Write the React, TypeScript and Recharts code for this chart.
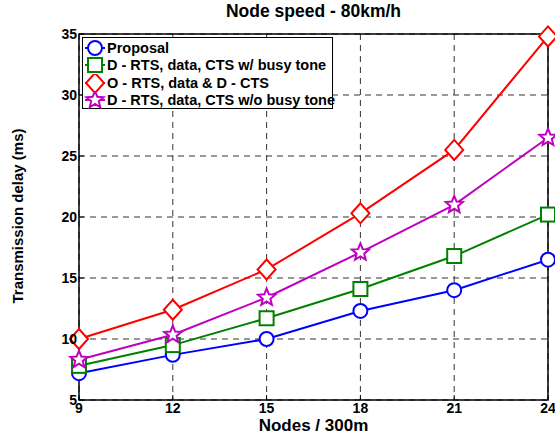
import { LineChart, Line, XAxis, YAxis, CartesianGrid, ReferenceArea } from 'recharts';

const nodes = [9, 12, 15, 18, 21, 24];
const proposal = [7.2, 8.7, 10.0, 12.3, 14.0, 16.5];
const busyTone = [7.8, 9.5, 11.7, 14.1, 16.8, 20.2];
const oRtsDCts = [10.0, 12.4, 15.7, 20.3, 25.5, 34.8];
const noBusyTone = [8.3, 10.35, 13.4, 17.1, 21.0, 26.5];
const yTicks = [5, 10, 15, 20, 25, 30, 35];

const seriesNames = [
  'Proposal',
  'D - RTS, data, CTS w/ busy tone',
  'O - RTS, data & D - CTS',
  'D - RTS, data, CTS w/o busy tone',
];

const data = nodes.map((n, i) => ({
  n,
  proposal: proposal[i],
  busyTone: busyTone[i],
  oRts: oRtsDCts[i],
  noBusy: noBusyTone[i],
}));

const FONT = '"Liberation Sans", Arial, Helvetica, sans-serif';

type Shape = 'circle' | 'square' | 'diamond' | 'star';

function starPoints(cx: number, cy: number, R: number, r: number) {
  const pts: string[] = [];
  for (let i = 0; i < 10; i++) {
    const rad = i % 2 === 0 ? R : r;
    const a = -Math.PI / 2 + (i * Math.PI) / 5;
    pts.push(`${cx + rad * Math.cos(a)},${cy + rad * Math.sin(a)}`);
  }
  return pts.join(' ');
}

function MarkerShape({ cx, cy, shape, color }: { cx: number; cy: number; shape: Shape; color: string }) {
  const common = { fill: '#fff', stroke: color, strokeWidth: 2 };
  if (shape === 'circle') return <circle cx={cx} cy={cy} r={7} {...common} />;
  if (shape === 'square') return <rect x={cx - 7} y={cy - 7} width={14} height={14} {...common} />;
  if (shape === 'diamond')
    return <polygon points={`${cx},${cy - 10} ${cx + 9},${cy} ${cx},${cy + 10} ${cx - 9},${cy}`} {...common} />;
  return <polygon points={starPoints(cx, cy, 9, 4)} {...common} strokeLinejoin="miter" />;
}

const dotFor = (shape: Shape, color: string) => (props: any) => {
  const { cx, cy, index } = props;
  if (cx == null || cy == null) return <g key={index} />;
  return <MarkerShape key={index} cx={cx} cy={cy} shape={shape} color={color} />;
};

const legendItems: { name: string; shape: Shape; color: string }[] = [
  { name: seriesNames[0], shape: 'circle', color: '#0000ff' },
  { name: seriesNames[1], shape: 'square', color: '#008000' },
  { name: seriesNames[2], shape: 'diamond', color: '#ff0000' },
  { name: seriesNames[3], shape: 'star', color: '#bf00bf' },
];

export default function App() {
  return (
    <div style={{ position: 'absolute', left: 0, top: 0, width: 555, height: 438, background: '#fff', fontFamily: FONT }}>
      <div
        style={{
          position: 'absolute',
          top: 1,
          left: 79,
          width: 469,
          textAlign: 'center',
          fontWeight: 'bold',
          fontSize: 17.5,
        }}
      >
        Node speed - 80km/h
      </div>
      <div
        style={{
          position: 'absolute',
          left: 17,
          top: 216,
          transform: 'translate(-50%, -50%) rotate(-90deg)',
          whiteSpace: 'nowrap',
          fontWeight: 'bold',
          fontSize: 15,
        }}
      >
        Transmission delay (ms)
      </div>
      <div
        style={{
          position: 'absolute',
          top: 416,
          left: 79,
          width: 469,
          textAlign: 'center',
          fontWeight: 'bold',
          fontSize: 17,
        }}
      >
        Nodes / 300m
      </div>
      <LineChart width={555} height={438} data={data} margin={{ top: 34, right: 7, left: 0, bottom: 0 }}>
        <CartesianGrid stroke="#333" strokeDasharray="6 5" strokeWidth={1} />
        <XAxis
          dataKey="n"
          type="number"
          domain={[9, 24]}
          ticks={nodes}
          height={38}
          axisLine={false}
          tickLine={{ stroke: '#000' }}
          tickSize={-5}
          tickMargin={8}
          tick={{ fill: '#000', fontSize: 14, fontWeight: 'bold', fontFamily: FONT }}
        />
        <YAxis
          type="number"
          domain={[5, 35]}
          ticks={yTicks}
          width={79}
          axisLine={false}
          tickLine={{ stroke: '#000' }}
          tickSize={-5}
          tickMargin={7}
          tick={{ fill: '#000', fontSize: 14, fontWeight: 'bold', fontFamily: FONT }}
        />
        <ReferenceArea x1={9} x2={24} y1={5} y2={35} fill="none" stroke="#000" strokeWidth={1.5} />
        <Line dataKey="proposal" stroke="#0000ff" strokeWidth={2} dot={dotFor('circle', '#0000ff')} isAnimationActive={false} />
        <Line dataKey="busyTone" stroke="#008000" strokeWidth={2} dot={dotFor('square', '#008000')} isAnimationActive={false} />
        <Line dataKey="oRts" stroke="#ff0000" strokeWidth={2} dot={dotFor('diamond', '#ff0000')} isAnimationActive={false} />
        <Line dataKey="noBusy" stroke="#bf00bf" strokeWidth={2} dot={dotFor('star', '#bf00bf')} isAnimationActive={false} />
      </LineChart>
      <div
        style={{
          position: 'absolute',
          left: 82,
          top: 37,
          width: 251,
          height: 72,
          border: '1.5px solid #000',
          background: '#fff',
          boxSizing: 'border-box',
          paddingTop: 1,
        }}
      >
        {legendItems.map((it) => (
          <div key={it.name} style={{ display: 'flex', alignItems: 'center', height: 17.5 }}>
            <svg width={24} height={18} style={{ flex: 'none' }}>
              <line x1={2} y1={9} x2={22} y2={9} stroke={it.color} strokeWidth={2} />
              <MarkerShape cx={12} cy={9} shape={it.shape} color={it.color} />
            </svg>
            <span style={{ fontWeight: 'bold', fontSize: 14.5, whiteSpace: 'nowrap' }}>{it.name}</span>
          </div>
        ))}
      </div>
    </div>
  );
}
